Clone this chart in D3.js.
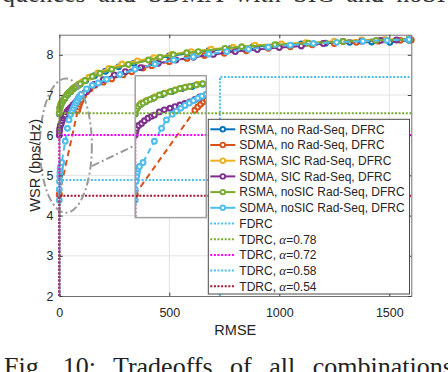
<!DOCTYPE html>
<html>
<head>
<meta charset="utf-8">
<script src="https://cdn.jsdelivr.net/npm/d3@7"></script>
<style>
  body { margin: 0; background: #fff; }
  text { font-family: "Liberation Sans", Arial, sans-serif; fill: #262626; }
</style>
</head>
<body>
<script>
// each series: [RMSE, WSR (bps/Hz)]
var rsmaNoRad = [[0,6.53],[3,6.68],[8,6.77],[15,6.84],[25,6.92],[38,7.01],[52,7.09],[66,7.16],[80,7.21],[95,7.27],[120,7.36],[160,7.48],[210,7.59],[270,7.7],[340,7.79],[420,7.88],[500,7.97],[590,8.04],[680,8.1],[780,8.16],[880,8.2],[990,8.24],[1100,8.27],[1210,8.29],[1320,8.31],[1420,8.32],[1503,8.31],[1590,8.36]];
var sdmaNoRad = [[0,4.51],[0,4.53],[84,6.62],[88,6.7],[92,6.77],[96,6.83],[100,6.88],[110,6.98],[125,7.08],[140,7.15],[162,7.24],[200,7.32],[238,7.4],[290,7.5],[329,7.58],[380,7.67],[420,7.73],[500,7.83],[580,7.91],[660,7.98],[750,8.04],[850,8.1],[950,8.16],[1050,8.2],[1150,8.25],[1250,8.28],[1350,8.31],[1450,8.34],[1550,8.36],[1600,8.37]];
var rsmaSIC = [[0,6.56],[3,6.7],[9,6.8],[17,6.87],[28,6.96],[42,7.05],[57,7.13],[72,7.2],[88,7.27],[105,7.33],[135,7.44],[175,7.55],[225,7.66],[285,7.77],[355,7.85],[430,7.93],[510,8.01],[600,8.08],[690,8.14],[790,8.19],[890,8.24],[1010,8.27],[1120,8.3],[1250,8.34],[1375,8.37],[1480,8.38],[1590,8.4]];
var sdmaSIC = [[0,6.0],[1,6.1],[2,6.17],[5,6.24],[9,6.29],[13,6.36],[18,6.42],[23,6.47],[27,6.5],[34,6.58],[41,6.63],[49,6.67],[56,6.71],[63,6.75],[70,6.79],[77,6.83],[84,6.89],[91,6.95],[100,6.99],[117,7.06],[132,7.14],[160,7.26],[200,7.38],[250,7.5],[300,7.58],[370,7.68],[450,7.79],[530,7.87],[610,7.94],[700,8.01],[800,8.08],[900,8.13],[1000,8.18],[1100,8.22],[1200,8.28],[1290,8.33],[1375,8.34],[1460,8.36],[1533,8.37],[1590,8.39]];
var rsmaNoSIC = [[0,6.54],[2,6.65],[4,6.71],[7,6.76],[11,6.8],[16,6.85],[21,6.89],[27,6.93],[34,7.0],[41,7.04],[49,7.08],[56,7.12],[63,7.16],[70,7.19],[77,7.21],[86,7.25],[95,7.28],[117,7.36],[150,7.46],[185,7.54],[238,7.64],[314,7.76],[405,7.87],[458,7.94],[518,8.0],[579,8.05],[632,8.08],[753,8.16],[829,8.2],[980,8.25],[1132,8.29],[1290,8.33],[1440,8.36],[1590,8.38]];
var sdmaNoSIC = [[0,4.38],[0,4.65],[1,4.85],[2,4.98],[3,5.08],[4,5.16],[6,5.22],[11,5.32],[27,5.85],[37,6.17],[44,6.38],[52,6.52],[58,6.6],[64,6.67],[70,6.74],[76,6.8],[82,6.86],[88,6.92],[94,6.97],[100,7.02],[124,7.15],[150,7.24],[177,7.3],[215,7.39],[276,7.51],[344,7.64],[435,7.77],[520,7.87],[609,7.95],[680,8.02],[761,8.08],[860,8.14],[950,8.19],[1050,8.24],[1155,8.28],[1261,8.31],[1380,8.34],[1490,8.36],[1590,8.38]];

var fdrc = [[730,2],[730,7.45],[1600,7.45]];
var tdrcAlpha = ["0.78","0.72","0.58","0.54"];
var tdrcWsr = [6.545, 6.005, 4.886, 4.495];

var xTicks = [0,500,1000,1500];
var yTicks = [2,3,4,5,6,7,8];

var seriesNames = ["RSMA, no Rad-Seq, DFRC","SDMA, no Rad-Seq, DFRC","RSMA, SIC Rad-Seq, DFRC","SDMA, SIC Rad-Seq, DFRC","RSMA, noSIC Rad-Seq, DFRC","SDMA, noSIC Rad-Seq, DFRC"];
var seriesData = [rsmaNoRad, sdmaNoRad, rsmaSIC, sdmaSIC, rsmaNoSIC, sdmaNoSIC];
var seriesColors = ["#0072BD","#D95319","#EDB120","#7E2F8E","#77AC30","#4DBEEE"];
var seriesDash = [null,"6,4",null,null,null,"6,4"];
var tdrcColors = ["#77AC30","#FF00FF","#4DBEEE","#A2142F"];
var fdrcColor = "#4DBEEE";

// zoom annotation (data units) and inset window
var zoomEllipse = {cx: 30, cy: 5.74, rx: 118, ry: 1.67};
var zoomLink = [[148, 5.23], [345, 5.75]];
var insetBox = {x0: 345, x1: 668, y0: 3.95, y1: 7.48};
var insetXDomain = [0, 100];

var W = 448, H = 372;
var svg = d3.select("body").append("svg").attr("width", W).attr("height", H);

var x = d3.scaleLinear().domain([0,1600]).range([59.3, 411.3]);
var y = d3.scaleLinear().domain([2,8.5]).range([296, 34.7]);

// cropped page text above and below
svg.append("text").attr("x", 2).attr("y", 1.5)
  .style("font-family", "'Liberation Serif', serif").style("font-size", "26px").style("fill", "#333")
  .style("word-spacing", "6px")
  .text("quences and SDMA with SIC and noSIC Rad-Seq");
svg.append("text").attr("x", 4).attr("y", 375)
  .style("font-family", "'Liberation Serif', serif").style("font-size", "26px").style("fill", "#222")
  .style("word-spacing", "11px")
  .text("Fig. 10: Tradeoffs of all combinations");

// grid
var grid = svg.append("g").attr("stroke", "#e3e3e3").attr("stroke-width", 1);
grid.selectAll(".gx").data(xTicks.slice(1)).enter().append("line")
  .attr("x1", d => x(d)).attr("x2", d => x(d)).attr("y1", y(2)).attr("y2", y(8.5));
grid.selectAll(".gy").data(yTicks.slice(1)).enter().append("line")
  .attr("y1", d => y(d)).attr("y2", d => y(d)).attr("x1", x(0)).attr("x2", x(1600));

function drawCurves(g, xs, ys, markerFilter) {
  var line = d3.line().x(d => xs(d[0])).y(d => ys(d[1]));
  seriesData.forEach(function(data, i) {
    g.append("path").datum(data)
      .attr("d", line).attr("fill", "none")
      .attr("stroke", seriesColors[i]).attr("stroke-width", 2)
      .attr("stroke-dasharray", seriesDash[i]);
    g.selectAll(".m" + i).data(data.filter(markerFilter)).enter().append("circle")
      .attr("cx", d => xs(d[0])).attr("cy", d => ys(d[1])).attr("r", 2.4)
      .attr("fill", "#fff").attr("stroke", seriesColors[i]).attr("stroke-width", 2.1);
  });
  // reference lines
  g.append("path").datum(fdrc).attr("d", line).attr("fill", "none")
    .attr("stroke", fdrcColor).attr("stroke-width", 2).attr("stroke-dasharray", "2,1.6");
  tdrcWsr.forEach(function(v, i) {
    g.append("path").datum([[0,2],[0,v],[1600,v]]).attr("d", line).attr("fill", "none")
      .attr("stroke", tdrcColors[i]).attr("stroke-width", 2).attr("stroke-dasharray", "2,1.6");
  });
}

drawCurves(svg.append("g"), x, y, () => true);

// ellipse + link
svg.append("ellipse")
  .attr("cx", x(zoomEllipse.cx)).attr("cy", y(zoomEllipse.cy))
  .attr("rx", x(zoomEllipse.cx + zoomEllipse.rx) - x(zoomEllipse.cx))
  .attr("ry", y(zoomEllipse.cy - zoomEllipse.ry) - y(zoomEllipse.cy))
  .attr("fill", "none").attr("stroke", "#9a9a9a").attr("stroke-width", 2)
  .attr("stroke-dasharray", "8,3,2,3");
svg.append("line")
  .attr("x1", x(zoomLink[0][0])).attr("y1", y(zoomLink[0][1]))
  .attr("x2", x(zoomLink[1][0])).attr("y2", y(zoomLink[1][1]))
  .attr("stroke", "#9a9a9a").attr("stroke-width", 2).attr("stroke-dasharray", "8,3,2,3");

// inset
var ix0 = x(insetBox.x0), ix1 = x(insetBox.x1), iy0 = y(insetBox.y1), iy1 = y(insetBox.y0);
var xi = d3.scaleLinear().domain(insetXDomain).range([ix0, ix1]);
svg.append("clipPath").attr("id", "insetClip").append("rect")
  .attr("x", ix0).attr("y", iy0).attr("width", ix1 - ix0).attr("height", iy1 - iy0);
svg.append("rect").attr("x", ix0).attr("y", iy0).attr("width", ix1 - ix0).attr("height", iy1 - iy0)
  .attr("fill", "#fff");
var inset = svg.append("g").attr("clip-path", "url(#insetClip)");
drawCurves(inset, xi, y, d => d[0] <= insetXDomain[1] && d[1] >= insetBox.y0 && d[1] <= insetBox.y1);
svg.append("rect").attr("x", ix0).attr("y", iy0).attr("width", ix1 - ix0).attr("height", iy1 - iy0)
  .attr("fill", "none").attr("stroke", "#a0a0a0").attr("stroke-width", 1.5);

// axes (box with inward ticks)
function styleAxis(g) {
  g.select(".domain").attr("stroke", "#707070");
  g.selectAll(".tick line").attr("stroke", "#404040");
  g.selectAll(".tick text").style("font-size", "12.5px").attr("fill", "#262626")
    .style("font-family", "'Liberation Sans', Arial, sans-serif");
}
var fmt = d3.format("d");
svg.append("g").attr("transform", "translate(0," + y(2) + ")")
  .call(d3.axisBottom(x).tickValues(xTicks).tickFormat(fmt).tickSizeInner(-3.5).tickSizeOuter(0).tickPadding(12.4))
  .call(styleAxis);
svg.append("g").attr("transform", "translate(0," + y(8.5) + ")")
  .call(d3.axisTop(x).tickValues(xTicks).tickSizeInner(-3.5).tickSizeOuter(0).tickFormat(""))
  .call(styleAxis);
svg.append("g").attr("transform", "translate(" + x(0) + ",0)")
  .call(d3.axisLeft(y).tickValues(yTicks).tickFormat(fmt).tickSizeInner(-3.5).tickSizeOuter(0).tickPadding(5.8))
  .call(styleAxis);
svg.append("g").attr("transform", "translate(" + x(1600) + ",0)")
  .call(d3.axisRight(y).tickValues(yTicks).tickSizeInner(-3.5).tickSizeOuter(0).tickFormat(""))
  .call(styleAxis);

svg.append("text").attr("x", (x(0) + x(1600)) / 2).attr("y", 335)
  .attr("text-anchor", "middle").style("font-size", "14.5px").text("RMSE");
svg.append("text").attr("transform", "translate(40," + ((y(2) + y(8.5)) / 2) + ") rotate(-90)")
  .attr("text-anchor", "middle").style("font-size", "14.5px").text("WSR (bps/Hz)");

// legend
var lg = svg.append("g");
var lx = 208.3, ly = 119.3, lw = 201.2, lh = 174.7, rowH = 15.7;
lg.append("rect").attr("x", lx).attr("y", ly).attr("width", lw).attr("height", lh)
  .attr("fill", "#fff").attr("stroke", "#4a4a4a").attr("stroke-width", 1);
var entries = seriesNames.map((n, i) => ({name: n, color: seriesColors[i], marker: true}));
entries.push({name: "FDRC", color: fdrcColor, marker: false});
tdrcAlpha.forEach((a, i) => entries.push({name: "TDRC, ", alpha: a, color: tdrcColors[i], marker: false}));
entries.forEach(function(e, i) {
  var cy = ly + 10 + i * rowH;
  lg.append("line").attr("x1", lx + 2).attr("x2", lx + 27).attr("y1", cy).attr("y2", cy)
    .attr("stroke", e.color).attr("stroke-width", 2)
    .attr("stroke-dasharray", e.marker ? null : "2,1.6");
  if (e.marker) {
    lg.append("circle").attr("cx", lx + 14.5).attr("cy", cy).attr("r", 2.3)
      .attr("fill", "#fff").attr("stroke", e.color).attr("stroke-width", 1.8);
  }
  var t = lg.append("text").attr("x", lx + 31).attr("y", cy).attr("dy", "0.36em")
    .style("font-size", "12px").text(e.name);
  if (e.alpha) {
    t.append("tspan").style("font-family", "'Liberation Serif', serif").style("font-style", "italic")
      .style("font-size", "13px").text("α");
    t.append("tspan").text("=" + e.alpha);
  }
});
</script>
</body>
</html>
